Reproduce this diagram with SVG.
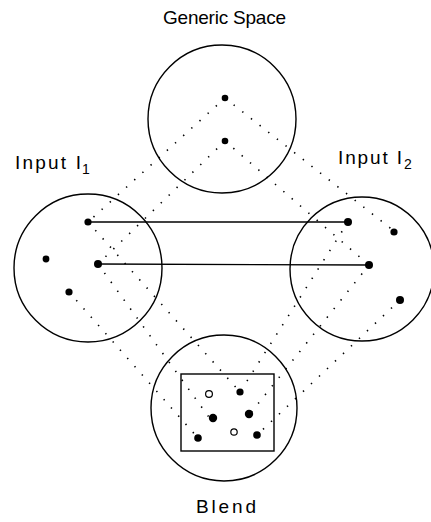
<svg xmlns="http://www.w3.org/2000/svg" width="431" height="522" viewBox="0 0 431 522">
<style>
.space{fill:none;stroke:#000;stroke-width:1.4}
.dot{fill:#000}
.hollow{fill:#fff;stroke:#000;stroke-width:1.2}
.dotted{stroke:#000;stroke-width:1.6;stroke-dasharray:1.4 9.6;fill:none}
.solid{stroke:#000;stroke-width:1.4;fill:none}
.lbl{font-family:"Liberation Sans",Arial,sans-serif;font-size:19px;fill:#000}
.sub{font-family:"Liberation Sans",Arial,sans-serif;font-size:14px;fill:#000}
</style>
<rect width="431" height="522" fill="#fff"/>
<g id="connectors">
<line class="dotted" x1="225" y1="98" x2="88" y2="222"/>
<line class="dotted" x1="225" y1="141" x2="98" y2="264"/>
<line class="dotted" x1="225" y1="98" x2="394" y2="231"/>
<line class="dotted" x1="225" y1="141" x2="369" y2="265"/>
<line class="dotted" x1="88" y1="222" x2="240" y2="392"/>
<line class="dotted" x1="98" y1="264" x2="211" y2="420"/>
<line class="dotted" x1="69" y1="292" x2="198" y2="438"/>
<line class="dotted" x1="348" y1="222" x2="240" y2="392"/>
<line class="dotted" x1="369" y1="265" x2="249" y2="415"/>
<line class="dotted" x1="400" y1="300" x2="257" y2="435"/>
<line class="solid" x1="88" y1="222" x2="348" y2="222"/>
<line class="solid" x1="98" y1="264" x2="369" y2="265"/>
</g>
<g id="generic">
<circle class="space" cx="222" cy="119" r="74"/>
<circle class="dot" cx="225" cy="98" r="3.3"/>
<circle class="dot" cx="225" cy="141" r="3.3"/>
<text class="lbl" x="163" y="24" textLength="123" lengthAdjust="spacing">Generic Space</text>
</g>
<g id="input1">
<circle class="space" cx="88" cy="268" r="74"/>
<circle class="dot" cx="88" cy="222" r="3.6"/>
<circle class="dot" cx="98" cy="264" r="4"/>
<circle class="dot" cx="46" cy="259" r="3.4"/>
<circle class="dot" cx="69" cy="292" r="3.6"/>
<text class="lbl" x="15" y="169" textLength="66" lengthAdjust="spacing">Input I</text><text class="sub" x="82" y="174">1</text>
</g>
<g id="input2">
<circle class="space" cx="362" cy="269" r="72"/>
<circle class="dot" cx="348" cy="222" r="4"/>
<circle class="dot" cx="394" cy="232" r="3.6"/>
<circle class="dot" cx="369" cy="265" r="4"/>
<circle class="dot" cx="400" cy="300" r="4"/>
<text class="lbl" x="338" y="164" textLength="64" lengthAdjust="spacing">Input I</text><text class="sub" x="404" y="169">2</text>
</g>
<g id="blend">
<circle class="space" cx="224" cy="408" r="73"/>
<rect x="181" y="374" width="93" height="77" fill="none" stroke="#000" stroke-width="1.4"/>
<circle class="hollow" cx="209" cy="394" r="3.4"/>
<circle class="dot" cx="240" cy="392" r="3.6"/>
<circle class="dot" cx="213" cy="418" r="4.2"/>
<circle class="dot" cx="249" cy="414" r="4.2"/>
<circle class="hollow" cx="234" cy="432" r="3.2"/>
<circle class="dot" cx="198" cy="438" r="3.8"/>
<circle class="dot" cx="257" cy="435" r="3.8"/>
<text class="lbl" x="196" y="513" textLength="60" lengthAdjust="spacing">Blend</text>
</g>
</svg>
